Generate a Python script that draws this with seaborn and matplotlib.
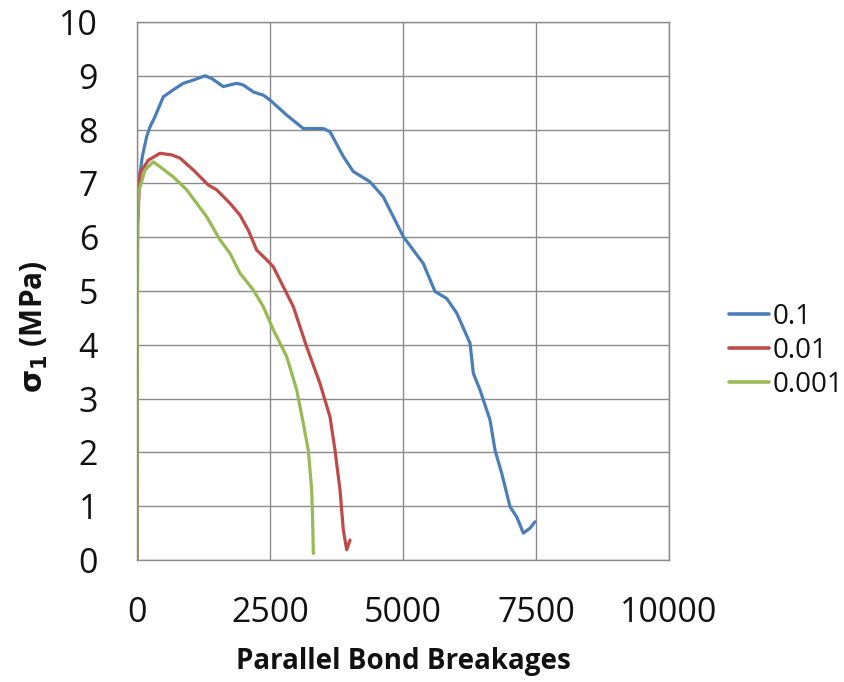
import numpy as np
import pandas as pd
import matplotlib
matplotlib.use("Agg")
import matplotlib.pyplot as plt
import seaborn as sns

# ---- data ----
x_01 = [0, 10, 25, 100, 182, 244, 338, 495, 683, 870, 1058, 1278, 1404, 1622, 1874, 1998,
        2186, 2374, 2500, 2814, 3126, 3502, 3628, 3878, 4066, 4380, 4630, 4818, 5006,
        5382, 5602, 5822, 6010, 6260, 6322, 6448, 6636, 6730, 6856, 7012, 7138, 7262,
        7386, 7480]
y_01 = [0, 6.3, 6.94, 7.5, 7.87, 8.05, 8.24, 8.61, 8.74, 8.86, 8.92, 9.0, 8.95, 8.80, 8.86,
        8.83, 8.70, 8.64, 8.55, 8.27, 8.02, 8.02, 7.96, 7.50, 7.22, 7.03, 6.75, 6.38, 6.01,
        5.51, 4.99, 4.86, 4.59, 4.03, 3.47, 3.16, 2.60, 2.04, 1.61, 0.99, 0.80, 0.50,
        0.59, 0.71]

x_001 = [0, 10, 56, 212, 432, 652, 808, 1058, 1340, 1498, 1748, 1936, 2092, 2250, 2438,
         2562, 2750, 2938, 3190, 3440, 3628, 3722, 3816, 3878, 3942, 4004]
y_001 = [0, 6.2, 7.19, 7.43, 7.56, 7.53, 7.47, 7.25, 6.97, 6.88, 6.63, 6.41, 6.13, 5.76,
         5.58, 5.45, 5.08, 4.71, 3.96, 3.28, 2.66, 2.04, 1.30, 0.56, 0.19, 0.37]

x_0001 = [0, 10, 25, 150, 306, 432, 683, 934, 1122, 1310, 1560, 1748, 1936, 2186, 2374,
          2562, 2814, 3002, 3126, 3220, 3284, 3303, 3315]
y_0001 = [0, 6.0, 6.82, 7.25, 7.40, 7.31, 7.12, 6.88, 6.63, 6.38, 5.95, 5.70, 5.33, 5.02,
          4.71, 4.28, 3.78, 3.16, 2.54, 2.04, 1.30, 0.68, 0.12]

series_names = ["0.1", "0.01", "0.001"]
colors = ["#4A7EBB", "#BE4B48", "#98B954"]

x_ticks = [0, 2500, 5000, 7500, 10000]
y_ticks = list(range(0, 11))

frames = []
for name, xs, ys in zip(series_names, [x_01, x_001, x_0001], [y_01, y_001, y_0001]):
    frames.append(pd.DataFrame({"x": xs, "y": ys, "series": name}))
df = pd.concat(frames, ignore_index=True)

sns.set_theme(style="white")
plt.rcParams["font.family"] = ["Open Sans", "DejaVu Sans"]

fig = plt.figure(figsize=(8.45, 6.82), dpi=100)
ax = fig.add_axes([137 / 845, 1 - 560 / 682, (669 - 137) / 845, (560 - 22) / 682])

sns.lineplot(data=df, x="x", y="y", hue="series", hue_order=series_names,
             palette=colors, sort=False, estimator=None, units="series",
             linewidth=2.3, ax=ax, legend=True)

ax.set_xlim(0, 10000)
ax.set_ylim(0, 10)
ax.set_xticks(x_ticks)
ax.set_xticklabels([str(v) for v in x_ticks])
ax.set_yticks(y_ticks)
ax.set_yticklabels([str(v) for v in y_ticks])
ax.grid(True, color="#8A8A8A", linewidth=1.0)
ax.set_axisbelow(True)
for s in ax.spines.values():
    s.set_color("#8A8A8A")
    s.set_linewidth(1.0)
ax.tick_params(axis="both", length=0, labelsize=24.5, colors="#111111")
ax.tick_params(axis="x", pad=26)
ax.tick_params(axis="y", pad=28)

ax.set_xlabel("Parallel Bond Breakages", fontsize=20, fontweight="bold", color="#111111")
ax.xaxis.set_label_coords(0.5, -0.162)
ax.set_ylabel(r"$\mathbf{\sigma_1}$ (MPa)", fontsize=21.5, fontweight="bold", color="#111111")
ax.yaxis.set_label_coords(-0.163, 0.433)

handles, labels = ax.get_legend_handles_labels()
leg = ax.legend(handles, labels, loc="center left",
                bbox_to_anchor=(729 / 845, 1 - 351 / 682),
                bbox_transform=fig.transFigure, frameon=False, fontsize=20,
                handlelength=1.45, handletextpad=0.12, labelspacing=0.22, borderaxespad=0,
                borderpad=0)
for line in leg.get_lines():
    line.set_linewidth(2.6)
for t in leg.get_texts():
    t.set_color("#111111")

fig.savefig("out.png", dpi=100, facecolor="white")
